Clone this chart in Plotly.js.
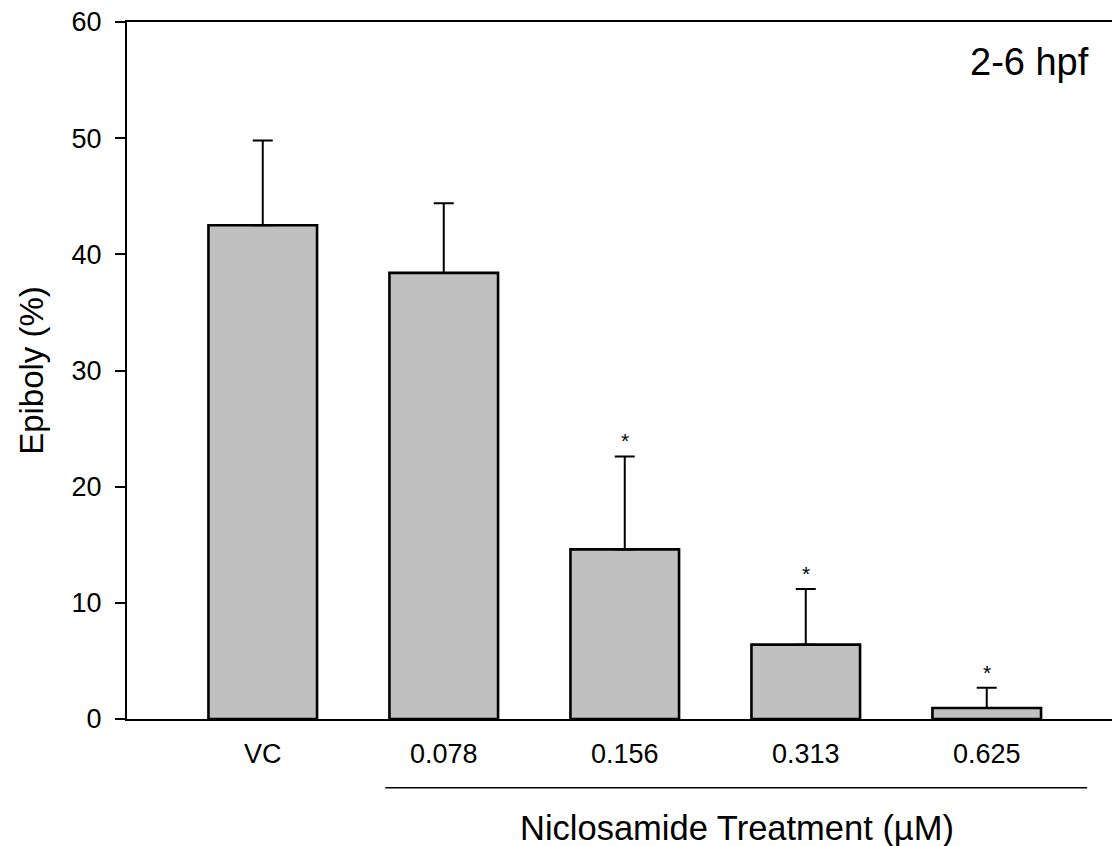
<!DOCTYPE html>
<html>
<head>
<meta charset="utf-8">
<script src="https://cdn.plot.ly/plotly-3.0.1.min.js"></script>
<style>
  html, body { margin: 0; padding: 0; background: #ffffff; }
  #chart { width: 1112px; height: 846px; }
</style>
</head>
<body>
<div id="chart"></div>
<script>
// Data
const categories = ["VC", "0.078", "0.156", "0.313", "0.625"];
const epiboly = [42.5, 38.4, 14.6, 6.4, 0.95];
const errorUp = [7.3, 6.0, 8.0, 4.8, 1.75];
const significant = [false, false, true, true, true];
const yTicks = [0, 10, 20, 30, 40, 50, 60];

const xIdx = categories.map((c, i) => i);
const FONT = "Liberation Sans, Arial, sans-serif";

const barTrace = {
  type: "bar",
  x: xIdx,
  y: epiboly,
  width: 0.6,
  marker: { color: "#c0c0c0", line: { color: "#000000", width: 2.6 } },
  error_y: {
    type: "data",
    symmetric: false,
    array: errorUp,
    arrayminus: epiboly.map(() => 0),
    color: "#000000",
    thickness: 2,
    width: 10
  },
  hoverinfo: "skip",
  showlegend: false
};

const annotations = [];
categories.forEach((c, i) => {
  if (significant[i]) {
    annotations.push({
      x: i, y: epiboly[i] + errorUp[i], xref: "x", yref: "y",
      text: "*", showarrow: false, yanchor: "bottom", yshift: 2,
      font: { family: FONT, size: 21, color: "#000" }
    });
  }
});
annotations.push({
  x: 0.979, y: 0.942, xref: "paper", yref: "paper",
  text: "2-6 hpf", showarrow: false, xanchor: "right", yanchor: "middle",
  font: { family: FONT, size: 38, color: "#000" }
});
// x-axis title, centred under the treatment group
annotations.push({
  x: 2.62, y: -0.157, xref: "x", yref: "paper",
  text: "Niclosamide Treatment (µM)", showarrow: false,
  xanchor: "center", yanchor: "middle",
  font: { family: FONT, size: 34.5, color: "#000" }
});

const layout = {
  width: 1112,
  height: 846,
  margin: { l: 127, r: 0, t: 22, b: 127 },
  paper_bgcolor: "#ffffff",
  plot_bgcolor: "#ffffff",
  font: { family: FONT, color: "#000" },
  bargap: 0.4,
  xaxis: {
    range: [-0.75, 4.692],
    tickvals: xIdx,
    ticktext: categories,
    ticks: "",
    showgrid: false,
    zeroline: false,
    showline: true,
    linecolor: "#000",
    linewidth: 2,
    mirror: true,
    tickfont: { family: FONT, size: 27, color: "#000" },
    ticklabelstandoff: 10,
    fixedrange: true
  },
  yaxis: {
    range: [0, 60],
    tickvals: yTicks,
    ticks: "outside",
    ticklen: 10,
    tickwidth: 2,
    tickcolor: "#000",
    showgrid: false,
    zeroline: false,
    showline: true,
    linecolor: "#000",
    linewidth: 2,
    tickfont: { family: FONT, size: 27, color: "#000" },
    ticklabelstandoff: 8,
    title: {
      text: "Epiboly (%)",
      font: { family: FONT, size: 33, color: "#000" },
      standoff: 18
    },
    fixedrange: true
  },
  shapes: [{
    type: "line", xref: "x", yref: "paper",
    x0: 0.677, x1: 4.555, y0: -0.0985, y1: -0.0985,
    line: { color: "#000", width: 1.5 }
  }],
  annotations: annotations
};

Plotly.newPlot("chart", [barTrace], layout, { displayModeBar: false, staticPlot: true });
</script>
</body>
</html>
